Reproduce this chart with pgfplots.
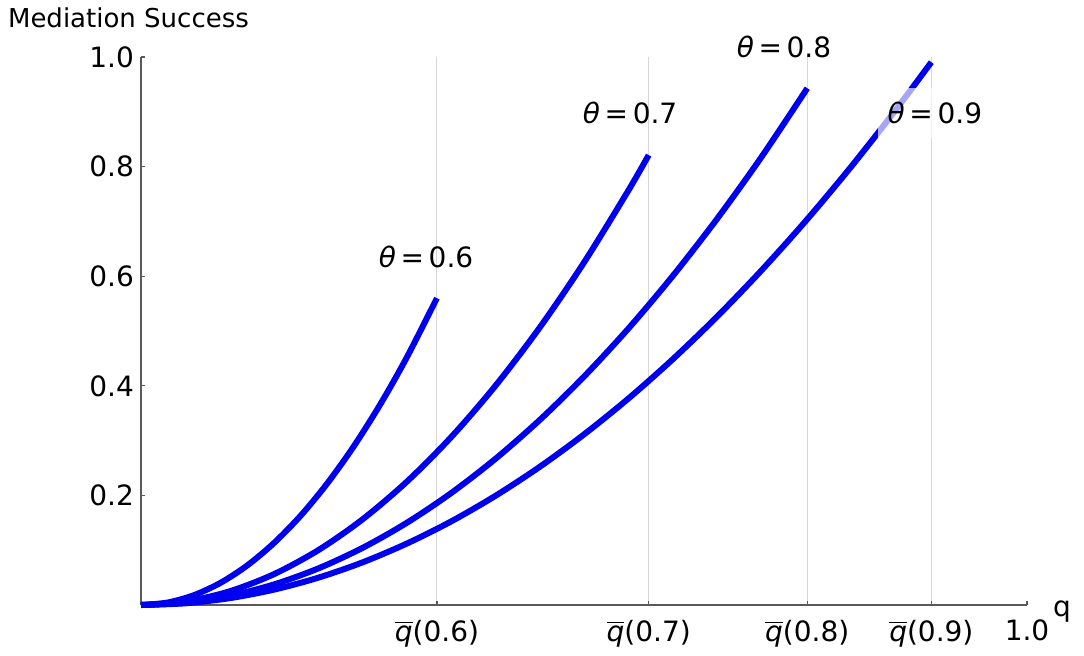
\documentclass[border=0pt]{standalone}
\usepackage{fontspec}
\setmainfont{DejaVu Sans}
\usepackage{pgfplots}
\pgfplotsset{compat=1.18}
\definecolor{curveblue}{RGB}{0,0,240}
\definecolor{axgray}{RGB}{90,90,90}
\definecolor{gridgray}{RGB}{215,215,215}
\newcommand{\qbar}[1]{$\overline{\mbox{\itshape q}}$(#1)}
\newcommand{\thlab}[1]{{\itshape θ}\,=\,#1}
\begin{document}
\begin{tikzpicture}
\begin{axis}[
  width=443pt, height=274pt, scale only axis=true,
  xmin=0, xmax=1, ymin=0, ymax=1,
  axis lines*=left,
  axis line style={axgray, line width=0.6pt},
  tick align=inside,
  major tick length=2pt,
  tick style={axgray, line width=0.6pt},
  xtick={0.334,0.573,0.752,0.892},
  xticklabels={\qbar{0.6},\qbar{0.7},\qbar{0.8},\qbar{0.9}},
  extra x ticks={1},
  extra x tick labels={1.0},
  extra x tick style={grid=none},
  xmajorgrids=true,
  grid style={gridgray, line width=0.5pt},
  ytick={0.2,0.4,0.6,0.8,1.0},
  yticklabels={0.2,0.4,0.6,0.8,1.0},
  /pgf/number format/assume math mode=true,
  tick label style={font=\fontsize{14}{16}\selectfont},
  xticklabel style={yshift=-4pt},
  clip=false,
]
\addplot[curveblue, line width=3pt, smooth] coordinates {
(0,0) (0.03,0.0045) (0.06,0.0181) (0.09,0.0407) (0.12,0.0723) (0.15,0.1130)
(0.18,0.1626) (0.21,0.2214) (0.24,0.2892) (0.27,0.3660) (0.30,0.4518) (0.334,0.560)};
\addplot[curveblue, line width=3pt, smooth] coordinates {
(0,0) (0.05,0.00625) (0.1,0.025) (0.15,0.05625) (0.2,0.1) (0.25,0.15625) (0.3,0.225)
(0.35,0.30625) (0.4,0.4) (0.45,0.50625) (0.5,0.625) (0.55,0.75625) (0.573,0.821)};
\addplot[curveblue, line width=3pt, smooth] coordinates {
(0,0) (0.05,0.00417) (0.1,0.01667) (0.15,0.0375) (0.2,0.0667) (0.25,0.1042) (0.3,0.15)
(0.35,0.2042) (0.4,0.2667) (0.45,0.3376) (0.5,0.4168) (0.55,0.5043) (0.6,0.6001)
(0.65,0.7043) (0.7,0.8168) (0.752,0.943)};
\addplot[curveblue, line width=3pt, smooth] coordinates {
(0,0) (0.05,0.00311) (0.1,0.01245) (0.15,0.0280) (0.2,0.0498) (0.25,0.0778) (0.3,0.1121)
(0.35,0.1525) (0.4,0.1992) (0.45,0.2521) (0.5,0.3113) (0.55,0.3766) (0.6,0.4482)
(0.65,0.5260) (0.7,0.6101) (0.75,0.7003) (0.8,0.7968) (0.85,0.8995) (0.892,0.9906)};
\node[font=\fontsize{14}{16}\selectfont] at (axis cs:0.3217,0.635) {\thlab{0.6}};
\node[font=\fontsize{14}{16}\selectfont] at (axis cs:0.552,0.898) {\thlab{0.7}};
\node[font=\fontsize{14}{16}\selectfont] at (axis cs:0.7257,1.018) {\thlab{0.8}};
\node[font=\fontsize{14}{16}\selectfont, fill=white, fill opacity=0.65, text opacity=1, inner xsep=5pt, inner ysep=7pt] at (axis cs:0.896,0.8978) {\thlab{0.9}};
\node[anchor=base west, font=\fontsize{13}{15}\selectfont] at ([xshift=-70pt,yshift=15pt]rel axis cs:0,1) {Mediation Success};
\node[anchor=base west, font=\fontsize{14}{16}\selectfont] at ([xshift=9.5pt,yshift=-5.5pt]rel axis cs:1,0) {q};
\coordinate (BL) at (rel axis cs:0,0);
\coordinate (TR) at (rel axis cs:1,1);
\end{axis}
\pgfresetboundingbox
\path[use as bounding box] ([shift={(-70.5pt,-25pt)}]BL) rectangle ([shift={(28.5pt,28.5pt)}]TR);
\end{tikzpicture}
\end{document}
